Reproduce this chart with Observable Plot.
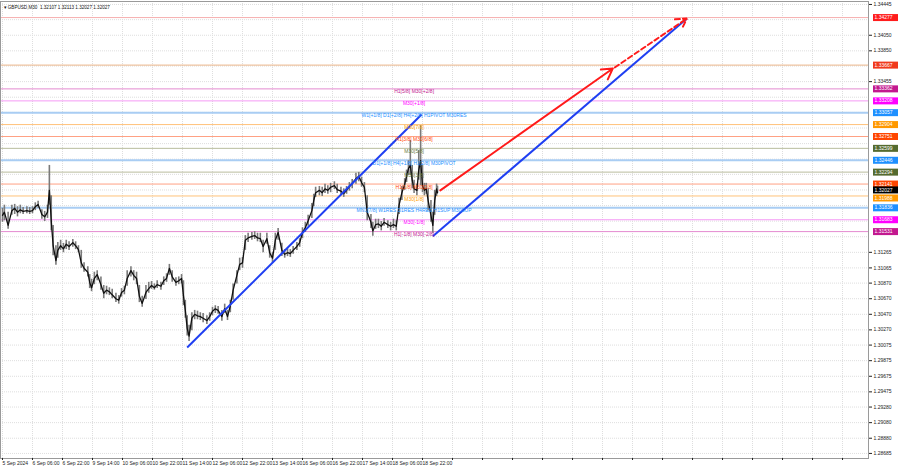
<!DOCTYPE html>
<html><head><meta charset="utf-8">
<script src="https://cdn.jsdelivr.net/npm/d3@7"></script>
<script src="https://cdn.jsdelivr.net/npm/@observablehq/plot@0.6"></script>
<style>
body{margin:0;background:#fff;}
#chart{width:900px;height:468px;overflow:hidden;}
</style></head><body>
<div id="chart"></div>
<script>
// ---- chart title ----
const symbolTitle = "GBPUSD,M30  1.32107 1.32113 1.32027 1.32027";

// ---- x axis (bar index, 32 M30 bars per label) ----
const xTickLabels = ["5 Sep 2024","6 Sep 06:00","6 Sep 22:00","9 Sep 14:00","10 Sep 06:00","10 Sep 22:00","11 Sep 14:00","12 Sep 06:00","12 Sep 22:00","13 Sep 14:00","16 Sep 06:00","16 Sep 22:00","17 Sep 14:00","18 Sep 06:00","18 Sep 22:00"];
const barsPerLabel = 32;
const gridCount = 29;

// ---- y axis ticks ----
const yTicks = [1.34445,1.34250,1.34050,1.33850,1.33655,1.33455,1.33255,1.33060,1.32860,1.32660,1.32460,1.32265,1.32065,1.31865,1.31665,1.31465,1.31265,1.31065,1.30870,1.30670,1.30470,1.30270,1.30075,1.29875,1.29675,1.29475,1.29280,1.29080,1.28880,1.28685];

// ---- price series (sampled bars) ----
const barIdx = [0,2,6,10,13,16,19,22,26,29,32,35,38,42,45,48,50,52,54,57,59,62,65,68,71,75,78,81,84,87,91,93,95,98,101,105,108,111,114,117,121,124,127,130,133,137,140,143,146,149,153,156,159,162,165,169,172,175,178,181,185,188,191,193,195,197,199,202,205,208,211,214,218,221,224,227,230,234,237,240,243,246,250,253,256,259,262,266,269,272,275,278,282,285,288,291,294,298,301,304,307,310,314,317,320,323,326,330,332,334,338,341,344,347,350,354,357,361,364,367,370,373,377,380,383,386,389,393,395,398,401,404,407,411,414,417,420,423,426,429,431,433,435,437,439,442,444,446,448,450,452,454,457,459,461,463,464];
const barClose = [1.3174,1.3178,1.3161,1.3180,1.3183,1.3178,1.3181,1.3179,1.3180,1.3179,1.3180,1.3185,1.3188,1.3175,1.3172,1.3178,1.3206,1.3167,1.3135,1.3116,1.3129,1.3135,1.3131,1.3137,1.3134,1.3139,1.3135,1.3130,1.3113,1.3106,1.3101,1.3088,1.3081,1.3093,1.3098,1.3085,1.3074,1.3078,1.3076,1.3072,1.3067,1.3065,1.3075,1.3078,1.3093,1.3103,1.3097,1.3093,1.3070,1.3061,1.3075,1.3080,1.3084,1.3081,1.3085,1.3083,1.3090,1.3093,1.3106,1.3095,1.3088,1.3090,1.3093,1.3071,1.3052,1.3029,1.3019,1.3042,1.3047,1.3045,1.3044,1.3042,1.3039,1.3044,1.3051,1.3054,1.3052,1.3044,1.3054,1.3044,1.3058,1.3078,1.3097,1.3111,1.3113,1.3142,1.3145,1.3147,1.3148,1.3145,1.3144,1.3134,1.3144,1.3126,1.3119,1.3142,1.3152,1.3129,1.3124,1.3126,1.3125,1.3129,1.3134,1.3139,1.3152,1.3158,1.3167,1.3180,1.3193,1.3203,1.3206,1.3203,1.3208,1.3206,1.3210,1.3212,1.3207,1.3205,1.3202,1.3206,1.3211,1.3215,1.3221,1.3224,1.3216,1.3210,1.3178,1.3165,1.3154,1.3162,1.3163,1.3160,1.3165,1.3162,1.3160,1.3162,1.3160,1.3187,1.3203,1.3214,1.3224,1.3234,1.3238,1.3219,1.3208,1.3206,1.3232,1.3244,1.3212,1.3206,1.3208,1.3193,1.3174,1.3161,1.3193,1.3208,1.32027];
const barHigh = [1.3183,1.3187,1.3178,1.3187,1.3188,1.3185,1.3187,1.3184,1.3185,1.3184,1.3185,1.3190,1.3192,1.3181,1.3179,1.3187,1.3238,1.3199,1.3161,1.3135,1.3139,1.3142,1.3138,1.3142,1.3140,1.3143,1.3140,1.3135,1.3129,1.3113,1.3108,1.3098,1.3092,1.3101,1.3103,1.3095,1.3084,1.3083,1.3081,1.3079,1.3074,1.3071,1.3080,1.3083,1.3103,1.3108,1.3103,1.3101,1.3084,1.3070,1.3084,1.3088,1.3089,1.3086,1.3090,1.3088,1.3095,1.3099,1.3111,1.3103,1.3094,1.3095,1.3098,1.3090,1.3065,1.3045,1.3033,1.3049,1.3052,1.3051,1.3049,1.3048,1.3045,1.3049,1.3056,1.3058,1.3057,1.3052,1.3060,1.3052,1.3065,1.3086,1.3103,1.3119,1.3120,1.3148,1.3151,1.3152,1.3153,1.3151,1.3151,1.3142,1.3151,1.3135,1.3126,1.3151,1.3157,1.3138,1.3130,1.3131,1.3130,1.3134,1.3139,1.3144,1.3158,1.3165,1.3174,1.3189,1.3201,1.3210,1.3211,1.3210,1.3214,1.3212,1.3215,1.3217,1.3214,1.3210,1.3208,1.3211,1.3216,1.3220,1.3228,1.3229,1.3223,1.3216,1.3199,1.3175,1.3165,1.3169,1.3169,1.3166,1.3170,1.3167,1.3165,1.3169,1.3167,1.3196,1.3211,1.3221,1.3232,1.3244,1.3270,1.3238,1.3219,1.3214,1.3257,1.3289,1.3238,1.3215,1.3215,1.3208,1.3193,1.3178,1.3206,1.3214,1.32113];
const barLow = [1.3165,1.3167,1.3156,1.3174,1.3175,1.3172,1.3176,1.3175,1.3176,1.3175,1.3176,1.3180,1.3183,1.3169,1.3166,1.3170,1.3187,1.3154,1.3122,1.3110,1.3119,1.3129,1.3126,1.3130,1.3129,1.3133,1.3130,1.3126,1.3106,1.3101,1.3095,1.3080,1.3076,1.3085,1.3090,1.3078,1.3067,1.3072,1.3071,1.3067,1.3062,1.3060,1.3069,1.3072,1.3083,1.3095,1.3090,1.3085,1.3062,1.3056,1.3066,1.3074,1.3079,1.3078,1.3080,1.3078,1.3084,1.3088,1.3097,1.3088,1.3083,1.3085,1.3086,1.3058,1.3042,1.3019,1.3012,1.3026,1.3040,1.3040,1.3039,1.3036,1.3034,1.3038,1.3045,1.3048,1.3047,1.3038,1.3048,1.3039,1.3049,1.3065,1.3086,1.3103,1.3106,1.3129,1.3139,1.3142,1.3143,1.3140,1.3139,1.3126,1.3137,1.3119,1.3113,1.3129,1.3142,1.3121,1.3119,1.3121,1.3120,1.3124,1.3129,1.3133,1.3144,1.3152,1.3160,1.3170,1.3185,1.3197,1.3199,1.3198,1.3202,1.3201,1.3203,1.3207,1.3202,1.3199,1.3197,1.3201,1.3205,1.3208,1.3214,1.3217,1.3210,1.3203,1.3167,1.3157,1.3147,1.3156,1.3157,1.3154,1.3160,1.3157,1.3154,1.3157,1.3154,1.3175,1.3193,1.3206,1.3216,1.3225,1.3225,1.3208,1.3202,1.3199,1.3219,1.3212,1.3203,1.3199,1.3201,1.3180,1.3165,1.3151,1.3174,1.3198,1.32027];

// ---- horizontal levels ----
const levelPrices = [1.34277,1.33667,1.33362,1.33208,1.33057,1.32904,1.32751,1.32599,1.32446,1.32294,1.32141,1.31988,1.31836,1.31683,1.31531];
const levelTexts = ["","","H1[5/8] M30[+2/8]","M30[+1/8]","W1[+1/8] D1[+2/8] H4[+2/8] H1PIVOT M30RES","M30[7/8]","H1[3/8] M30[6/8]","M30[5/8]","D1[+1/8] H4[+1/8] H1[2/8] M30PIVOT","M30[3/8]","H1[1/8] M30[2/8]","M30[1/8]","MN1[7/8] W1RES D1RES H4RES H1SUP M30SUP","M30[-1/8]","H1[-1/8] M30[-2/8]"];
const levelBoxColors = ["#ff1c1c","#f0391c","#c2188f","#ff00ff","#1e90ff","#ff9800","#ff4500","#556b2f","#1e90ff","#556b2f","#ff4500","#ff9800","#1e90ff","#ff00ff","#c2188f"];
const levelLineColors = ["#f6b0b0","#eab488","#e48ad0","#f59af5","#a9cdf3","#ffc27a","#ffa184","#b9bd9e","#a9cdf3","#b9bd9e","#ffa184","#ffc27a","#a9cdf3","#f59af5","#e48ad0"];
const levelDash = ["none","none","4,2,1,2","2,2","none","2,2","2,2","2,2","none","2,2","2,2","2,2","none","2,2","4,2,1,2"];
const levelWidth = [1,1,1,1,2,1,1,1,2,1,1,1,2,1,1];
const levelTextColors = ["","","#c2188f","#ff00ff","#1e90ff","#ffa000","#ff4500","#6b7a3a","#1e90ff","#6b7a3a","#ff4500","#ffa000","#1e90ff","#ff00ff","#c2188f"];
const levelLabelIdx = 439;
const bidPrice = 1.32027;

// ---- trend lines ----
const trendA_idx = [197, 447];   const trendA_price = [1.30044, 1.33033];
const trendB_idx = [459, 730];   const trendB_price = [1.3147, 1.34265];
const arrowSolid_idx = [467, 651]; const arrowSolid_price = [1.3206, 1.33624];
const arrowDash_idx = [653, 730];  const arrowDash_price = [1.33636, 1.34265];

// ---- build tables ----
const bars = barIdx.map((i, k) => ({i, close: barClose[k], high: barHigh[k], low: barLow[k]}));
const levels = levelPrices.map((v, k) => ({v, text: levelTexts[k], box: levelBoxColors[k], line: levelLineColors[k], dash: levelDash[k], w: levelWidth[k], tc: levelTextColors[k]}));
const boxes = levels.map(d => ({v: d.v, c: d.box})).concat([{v: bidPrice, c: "#000000"}]);
// the bid box and the box just below it are nudged apart (as the terminal stacks them)
const boxesUp = boxes.filter(b => b.v === bidPrice);
const boxesDown = boxes.filter(b => b.v !== bidPrice && Math.abs(b.v - bidPrice) < 0.0005);
const boxesRest = boxes.filter(b => !boxesUp.includes(b) && !boxesDown.includes(b));
const visibleTicks = yTicks.filter(t => boxes.every(b => Math.abs(b.v - t) > 0.00085));
const xTicks = d3.range(0, gridCount).map(k => k * barsPerLabel);
const segs = [
  {x1: trendA_idx[0], y1: trendA_price[0], x2: trendA_idx[1], y2: trendA_price[1]},
  {x1: trendB_idx[0], y1: trendB_price[0], x2: trendB_idx[1], y2: trendB_price[1]}
];
const arrowsSolid = [{x1: arrowSolid_idx[0], y1: arrowSolid_price[0], x2: arrowSolid_idx[1], y2: arrowSolid_price[1]}];
const arrowsDash = [{x1: arrowDash_idx[0], y1: arrowDash_price[0], x2: arrowDash_idx[1], y2: arrowDash_price[1]}];

const boxSymbol = {draw(ctx) { ctx.moveTo(-12.5, -3.5); ctx.lineTo(12.5, -3.5); ctx.lineTo(12.5, 3.5); ctx.lineTo(-12.5, 3.5); ctx.closePath(); }};
const boxMarks = (data, dy) => [
  Plot.dot(data, {y: "v", fill: "c", stroke: null, symbol: boxSymbol, frameAnchor: "right", dx: 17, dy}),
  Plot.text(data, {y: "v", text: d => d.v.toFixed(5), fill: "#ffffff", frameAnchor: "right", dx: 6, dy, textAnchor: "start", fontSize: 5})
];

const font = "'Liberation Sans', Arial, sans-serif";
const chart = Plot.plot({
  width: 900, height: 468,
  marginLeft: 0, marginRight: 32, marginTop: 1, marginBottom: 10,
  x: {domain: [-2.13, 923.7], axis: null},
  y: {domain: [1.28620, 1.34483], axis: null},
  color: {type: "identity"},
  style: {background: "#ffffff", fontFamily: font, overflow: "visible"},
  marks: [
    Plot.ruleY(yTicks, {stroke: "#dedede", strokeDasharray: "1,1"}),
    Plot.ruleX(xTicks, {stroke: "#dedede", strokeDasharray: "1,1"}),
    Plot.ruleY(levels, {y: "v", stroke: "line", strokeDasharray: "dash", strokeWidth: "w"}),
    Plot.ruleX(bars, {x: "i", y1: "low", y2: "high", stroke: "#7a7a7a", strokeWidth: 1.6}),
    Plot.line(bars, {x: "i", y: "close", stroke: "#111", strokeWidth: 1.3}),
    Plot.link(segs, {x1: "x1", y1: "y1", x2: "x2", y2: "y2", stroke: "#1f3ff2", strokeWidth: 2}),
    Plot.arrow(arrowsSolid, {x1: "x1", y1: "y1", x2: "x2", y2: "y2", stroke: "#ff1a1a", strokeWidth: 2, headLength: 9}),
    Plot.arrow(arrowsDash, {x1: "x1", y1: "y1", x2: "x2", y2: "y2", stroke: "#ff1a1a", strokeWidth: 2, headLength: 9, strokeDasharray: "5,3"}),
    Plot.text(levels.filter(d => d.text), {x: () => levelLabelIdx, y: "v", text: "text", fill: "tc", fontSize: 5, dy: 3}),
    Plot.frame({stroke: "#9a9a9a"}),
    Plot.axisY(visibleTicks, {anchor: "right", tickFormat: d => d.toFixed(5), tickSize: 3, tickPadding: 2, fontSize: 5, color: "#222"}),
    Plot.axisX(xTicks, {anchor: "bottom", tickFormat: d => xTickLabels[d / barsPerLabel] || "", textAnchor: "start", tickSize: 2, tickPadding: 1, fontSize: 5, color: "#222"}),
    ...boxMarks(boxesRest, 0),
    ...boxMarks(boxesDown, 2),
    ...boxMarks(boxesUp, -3),
    Plot.text([symbolTitle], {text: d => "\u25BE " + d, frameAnchor: "top-left", dx: 3, dy: 4, textAnchor: "start", fontSize: 4.6, fill: "#111"})
  ]
});
document.getElementById("chart").appendChild(chart);
</script>
</body></html>
